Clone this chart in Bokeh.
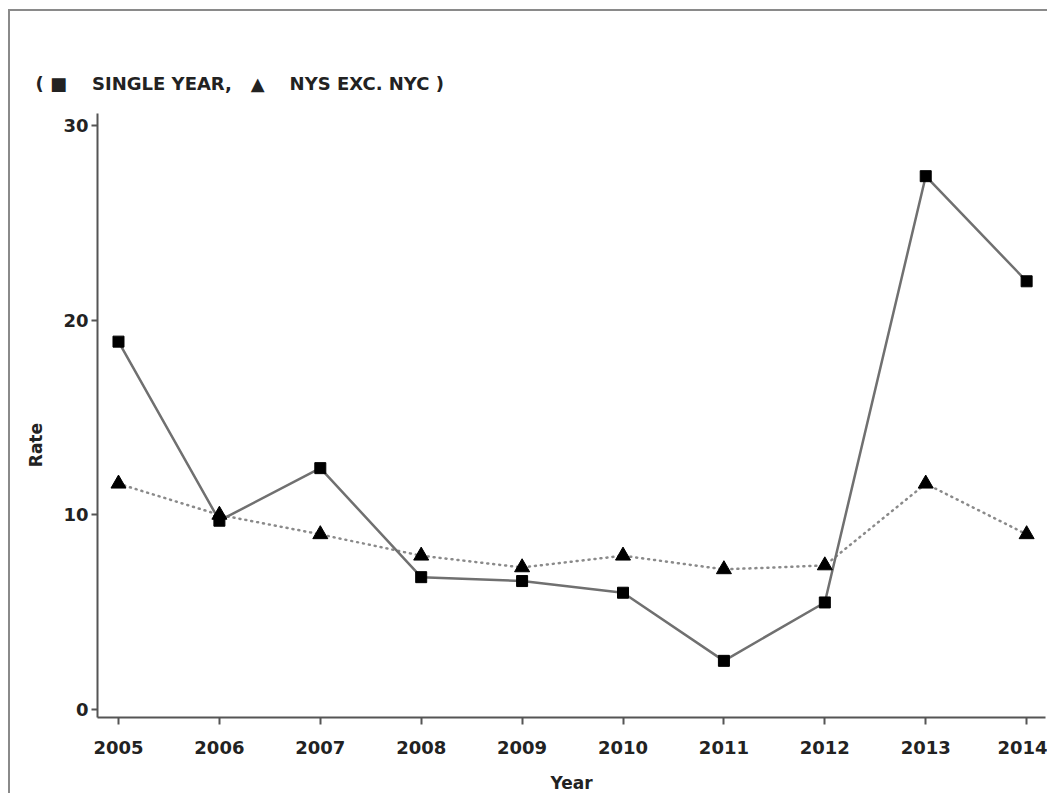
from bokeh.plotting import figure
from bokeh.models import Range1d, FixedTicker
from bokeh.embed import file_html
from bokeh.resources import INLINE

years = [2005, 2006, 2007, 2008, 2009, 2010, 2011, 2012, 2013, 2014]
single_year = [18.9, 9.7, 12.4, 6.8, 6.6, 6.0, 2.5, 5.5, 27.4, 22.0]
nys_exc_nyc = [11.6, 10.0, 9.0, 7.9, 7.3, 7.9, 7.2, 7.4, 11.6, 9.0]
y_ticks = [0, 10, 20, 30]
NB = "\u00a0"
legend_text = "(" + NB + "\u25a0" + NB * 4 + "SINGLE YEAR," + NB * 3 + "\u25b2" + NB * 4 + "NYS EXC. NYC )"

FONT = "DejaVu Sans"

p = figure(width=1039, height=784, output_backend="svg", toolbar_location=None,
           x_range=Range1d(2004.792, 2014.187), y_range=Range1d(-0.41, 30.62),
           min_border_left=87, min_border_right=4, min_border_top=102, min_border_bottom=76)
p.styles = {"margin-left": "8px", "margin-top": "9px",
            "border-left": "2px solid #8a8a8a", "border-top": "2px solid #8a8a8a"}
p.grid.visible = False
p.outline_line_color = None
p.background_fill_color = "white"
p.border_fill_color = "white"

p.title.text = legend_text
p.title.text_font = FONT
p.title.text_font_size = "18px"
p.title.text_font_style = "bold"
p.title.text_color = "#222222"
p.title.align = "left"
p.title.offset = -62
p.title.standoff = 40

# x axis
xa = p.xaxis[0]
xa.ticker = FixedTicker(ticks=years)
xa.axis_label = "Year"
xa.axis_label_text_font = FONT
xa.axis_label_text_font_style = "bold"
xa.axis_label_text_font_size = "17px"
xa.axis_label_standoff = 16
xa.major_label_text_font = FONT
xa.major_label_text_font_style = "bold"
xa.major_label_text_font_size = "18px"
xa.major_label_standoff = 16
xa.major_tick_out = 7
xa.major_tick_in = 0
xa.minor_tick_out = 0
xa.minor_tick_in = 0
xa.axis_line_color = "#555555"
xa.axis_line_width = 2
xa.major_tick_line_color = "#555555"
xa.major_tick_line_width = 2
xa.major_label_text_color = "#222222"
xa.axis_label_text_color = "#222222"

# y axis
ya = p.yaxis[0]
ya.ticker = FixedTicker(ticks=y_ticks)
ya.axis_label = "Rate" + NB * 10
ya.axis_label_text_font = FONT
ya.axis_label_text_font_style = "bold"
ya.axis_label_text_font_size = "17px"
ya.axis_label_standoff = 14
ya.major_label_text_font = FONT
ya.major_label_text_font_style = "bold"
ya.major_label_text_font_size = "18px"
ya.major_label_standoff = 3
ya.major_tick_out = 6
ya.major_tick_in = 0
ya.minor_tick_out = 0
ya.minor_tick_in = 0
ya.axis_line_color = "#555555"
ya.axis_line_width = 2
ya.major_tick_line_color = "#555555"
ya.major_tick_line_width = 2
ya.major_label_text_color = "#222222"
ya.axis_label_text_color = "#222222"

p.line(years, nys_exc_nyc, line_color="#8a8a8a", line_width=2.5, line_dash="1 5", line_cap="round")
p.line(years, single_year, line_color="#707070", line_width=2.5)
p.scatter(years, nys_exc_nyc, marker="triangle", size=15, fill_color="black", line_color="black")
p.scatter(years, single_year, marker="square", size=11, fill_color="black", line_color="black")

open("out.html", "w").write(file_html(p, INLINE))
